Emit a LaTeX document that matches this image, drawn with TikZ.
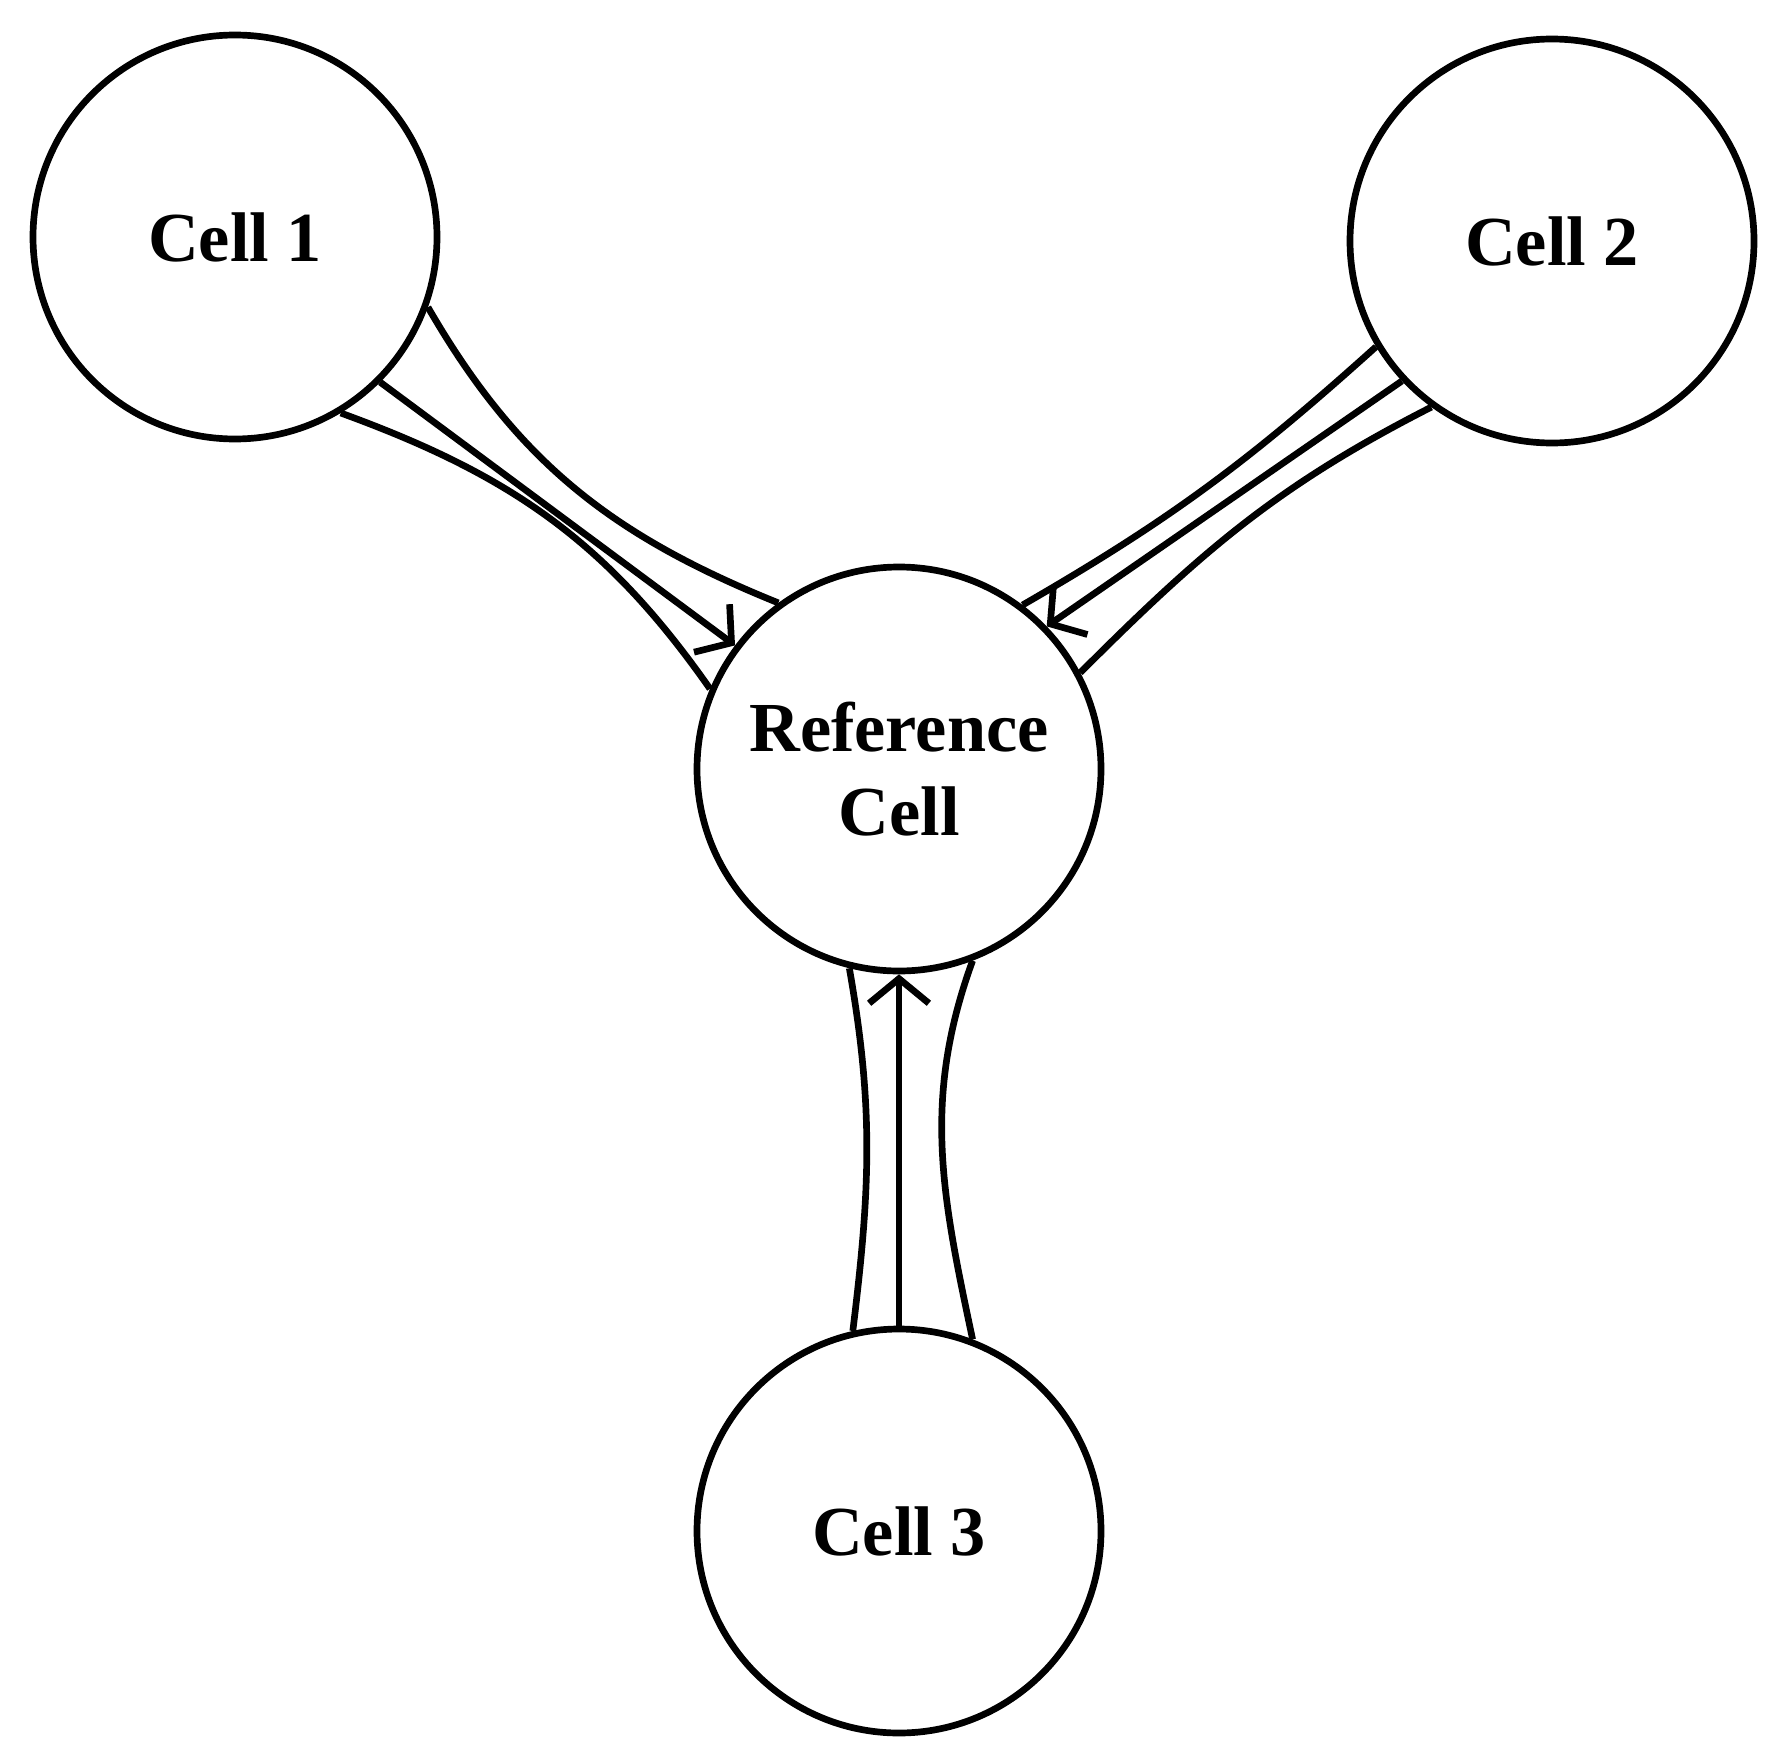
\documentclass[tikz,border=0pt]{standalone}
\usepackage{fontspec}
\setmainfont{Liberation Serif}
\usetikzlibrary{arrows.meta}
\begin{document}
\begin{tikzpicture}[line width=1.9pt,
    cell/.style={draw,circle,minimum size=4.04cm,inner sep=0pt,align=center,
      font=\fontsize{20}{24}\selectfont\bfseries},
    flux/.style={-{Straight Barb[length=7pt,width=17pt]}}]
  \useasboundingbox (0,0) rectangle (17.87,-17.64);
  \node[cell] (c1) at (2.35,-2.37) {Cell 1};
  \node[cell] (c2) at (15.52,-2.41) {Cell 2};
  \node[cell] (ref) at (8.99,-7.69) {Reference\\Cell};
  \node[cell] (c3) at (8.99,-15.31) {Cell 3};
  % cell 1 -> reference cell
  \draw (c1.-20) to[out=-60,in=158] (ref.126);
  \draw[flux] (c1.-45) -- (ref.143);
  \draw (c1.-59) to[out=-20,in=125] (ref.157);
  % cell 2 -> reference cell
  \draw (c2.211) to[out=222,in=30] (ref.53);
  \draw[flux] (c2.223) -- (ref.44);
  \draw (c2.234) to[out=207,in=45] (ref.28);
  % cell 3 -> reference cell
  \draw (c3.103) to[out=83,in=-80] (ref.-104);
  \draw[flux] (c3.north) -- (ref.south);
  \draw (c3.69) to[out=102,in=-110] (ref.-69);
\end{tikzpicture}
\end{document}
